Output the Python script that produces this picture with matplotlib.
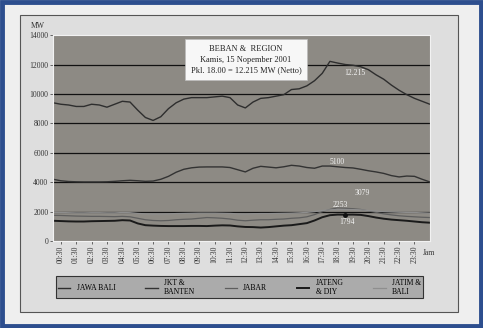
import numpy as np
import matplotlib as mpl
mpl.use('Agg')
import matplotlib.pyplot as plt
from matplotlib.patches import Rectangle

mpl.rc('font', family='Liberation Serif', size=6)

# half-hour steps, 00:00 .. 24:30
hours = np.arange(0, 25, 0.5)

jawa_bali = [9400, 9300, 9250, 9150, 9150, 9300, 9250, 9100, 9300, 9500,
             9450, 8900, 8400, 8200, 8450, 9000, 9400, 9650, 9750, 9750,
             9750, 9800, 9850, 9750, 9250, 9050, 9450, 9700, 9750, 9850,
             9950, 10300, 10350, 10550, 10900, 11400, 12215, 12100, 12000, 11950,
             11850, 11650, 11300, 11000, 10600, 10250, 9950, 9700, 9500, 9300]
jkt_banten = [4200, 4100, 4050, 4030, 4020, 4020, 4020, 4030, 4060, 4100,
              4130, 4100, 4060, 4080, 4200, 4400, 4680, 4880, 4980, 5030,
              5040, 5040, 5040, 5000, 4850, 4700, 4950, 5080, 5030, 4980,
              5050, 5150, 5100, 5000, 4950, 5100, 5100, 5050, 5000, 4970,
              4880, 4780, 4700, 4600, 4450, 4360, 4420, 4400, 4200, 4020]
jabar = [1750, 1740, 1720, 1700, 1690, 1680, 1680, 1670, 1660, 1680,
         1650, 1550, 1450, 1400, 1380, 1400, 1450, 1480, 1500, 1550,
         1600, 1580, 1550, 1500, 1420, 1380, 1420, 1450, 1450, 1480,
         1500, 1550, 1580, 1650, 1800, 2000, 2150, 2253, 2230, 2200,
         2150, 2050, 1950, 1850, 1780, 1720, 1680, 1650, 1620, 1600]
jateng_diy = [1380, 1360, 1340, 1330, 1330, 1350, 1360, 1370, 1380, 1420,
              1400, 1200, 1080, 1050, 1030, 1020, 1020, 1020, 1030, 1030,
              1020, 1050, 1070, 1060, 1000, 960, 950, 920, 950, 1000,
              1050, 1080, 1150, 1220, 1400, 1620, 1760, 1800, 1794, 1800,
              1780, 1700, 1600, 1520, 1460, 1420, 1380, 1330, 1280, 1250]
jatim_bali = [1950, 1940, 1930, 1920, 1920, 1930, 1930, 1920, 1920, 1940,
              1930, 1880, 1850, 1840, 1840, 1850, 1870, 1880, 1890, 1900,
              1900, 1900, 1890, 1880, 1850, 1840, 1860, 1870, 1870, 1880,
              1890, 1900, 1920, 1950, 2000, 2080, 2120, 2150, 2150, 2140,
              2120, 2080, 2040, 2000, 1980, 1960, 1950, 1940, 1920, 1900]

tick_hours = np.arange(0.5, 24, 1.0)
tick_labels = ['%02d:30' % h for h in range(24)]

series = [('JAWA BALI', jawa_bali, '#2e2e2e', 1.0),
          ('JKT &\nBANTEN', jkt_banten, '#333333', 1.0),
          ('JABAR', jabar, '#5e5e5e', 0.9),
          ('JATENG\n& DIY', jateng_diy, '#1a1a1a', 1.4),
          ('JATIM &\nBALI', jatim_bali, '#8e8e8e', 0.9)]

# value labels: (text, hour, value)
value_labels = [('12.215', 19.6, 11450), ('5100', 18.5, 5400),
                ('3079', 20.1, 3250), ('2253', 18.65, 2480),
                ('1794', 19.1, 1300)]


def main():
    fig = plt.figure(figsize=(4.83, 3.28), dpi=100, facecolor='#efefef')

    # page and chart frames
    fig.patches.append(Rectangle((0.004, 0.006), 0.992, 0.988, transform=fig.transFigure,
                                 fill=False, edgecolor='#2d4e8e', lw=3.5, zorder=-2))
    fig.patches.append(Rectangle((0.041, 0.049), 0.907, 0.905, transform=fig.transFigure,
                                 facecolor='#dedede', edgecolor='#555555', lw=0.8, zorder=-1))

    ax = fig.add_axes([0.110, 0.265, 0.780, 0.628])
    ax.set_facecolor('#8d8a84')
    for y in range(2000, 14000, 2000):
        ax.axhline(y, color='#111111', lw=0.9, zorder=1)

    handles = []
    for name, vals, col, lw in series:
        h, = ax.plot(hours, vals, color=col, lw=lw, label=name, zorder=2)
        handles.append(h)
    ax.plot([19.0], [1794], 'o', color='#111111', ms=2.5, zorder=3)

    for txt, hx, vy in value_labels:
        ax.text(hx, vy, txt, color='#f4f4f4', fontsize=5.5, ha='center', va='center', zorder=4)

    ax.set_xlim(0, 24.5)
    ax.set_ylim(0, 14000)
    ax.set_yticks(range(0, 14001, 2000))
    ax.set_xticks(tick_hours)
    ax.set_xticklabels(tick_labels, rotation=90)
    ax.tick_params(axis='both', length=2, width=0.5, pad=1.5, labelsize=5.5, colors='#333333')
    for s in ax.spines.values():
        s.set_color('#f2f2f2')
        s.set_linewidth(0.8)

    fig.text(0.079, 0.915, 'MW', fontsize=5.5, ha='center', color='#333333')
    fig.text(0.875, 0.222, 'Jam', fontsize=5.5, ha='left', color='#333333')

    ax.text(0.512, 0.88,
            'BEBAN &  REGION\nKamis, 15 Nopember 2001\nPkl. 18.00 = 12.215 MW (Netto)',
            transform=ax.transAxes, ha='center', va='center', fontsize=6,
            linespacing=1.45, color='#222222', zorder=5,
            bbox=dict(boxstyle='square,pad=0.7', facecolor='#f7f7f7', edgecolor='#bbbbbb', lw=0.5))

    leg = fig.legend(handles=handles, loc='lower left', ncol=5, mode='expand',
                     bbox_to_anchor=(0.108, 0.079, 0.776, 0.076),
                     fontsize=5.5, frameon=True, fancybox=False, handlelength=1.6,
                     borderpad=0.3, columnspacing=1.0)
    leg.get_frame().set_facecolor('#ababab')
    leg.get_frame().set_edgecolor('#333333')
    leg.get_frame().set_linewidth(0.8)
    leg.get_frame().set_alpha(1)

    fig.savefig('out.png', dpi=100, facecolor=fig.get_facecolor())


if __name__ == '__main__':
    main()
